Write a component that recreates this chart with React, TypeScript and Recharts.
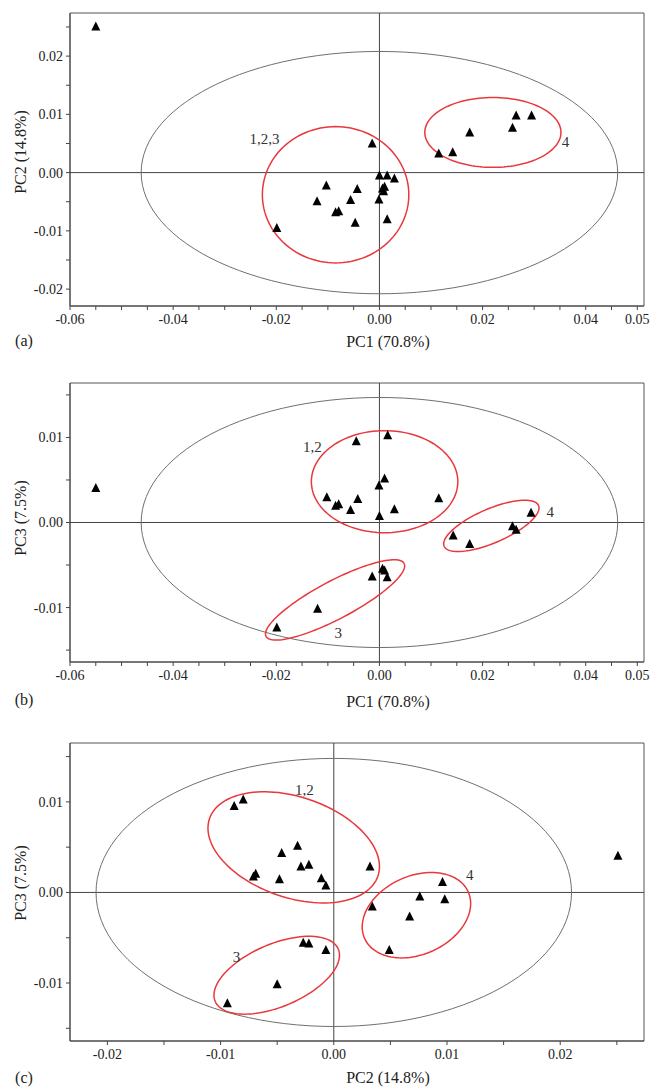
import { ScatterChart, Scatter, XAxis, YAxis, ReferenceLine, ReferenceArea, ReferenceDot } from 'recharts';

const FONT = '"Liberation Serif", "Times New Roman", serif';

// tick positions and which of them carry a label
const pc1Ticks = [-0.06, -0.055, -0.05, -0.045, -0.04, -0.035, -0.03, -0.025, -0.02, -0.015, -0.01, -0.005, 0, 0.005, 0.01, 0.015, 0.02, 0.025, 0.03, 0.035, 0.04, 0.045, 0.05];
const pc1Labels = [-0.06, -0.04, -0.02, 0, 0.02, 0.04, 0.05];
const pc2Ticks = [-0.02, -0.015, -0.01, -0.005, 0, 0.005, 0.01, 0.015, 0.02, 0.025];
const pc2Labels = [-0.02, -0.01, 0, 0.01, 0.02];
const pc3Ticks = [-0.015, -0.01, -0.005, 0, 0.005, 0.01, 0.015];
const pc3Labels = [-0.01, 0, 0.01];

// scores: [x, y]
const scoresA: [number, number][] = [
  [-0.055, 0.025],
  [-0.0014, 0.0049], [-0.0199, -0.0096], [-0.0121, -0.005], [-0.0103, -0.0023],
  [-0.0085, -0.0069], [-0.0079, -0.0067], [-0.0056, -0.0048], [-0.0043, -0.0029],
  [-0.0047, -0.0087], [0.0, -0.0006], [0.0015, -0.0006], [0.0029, -0.0011],
  [0.001, -0.0025], [0.0008, -0.0033], [0.0006, -0.0028], [-0.0001, -0.0047], [0.0015, -0.0081],
  [0.0115, 0.0032], [0.0142, 0.0034], [0.0175, 0.0068], [0.0258, 0.0076], [0.0265, 0.0097], [0.0295, 0.0097],
];
const scoresB: [number, number][] = [
  [-0.055, 0.004],
  [-0.0045, 0.0095], [0.0016, 0.0102], [0.001, 0.0051], [-0.0001, 0.0043],
  [-0.0102, 0.0029], [-0.0085, 0.0019], [-0.0079, 0.0021], [-0.0042, 0.0027],
  [-0.0056, 0.0014], [0.0029, 0.0015], [0.0, 0.0007], [0.0115, 0.0028],
  [0.0143, -0.0016], [0.0175, -0.0026], [0.0258, -0.0005], [0.0265, -0.0009], [0.0294, 0.0011],
  [-0.0014, -0.0064], [0.0006, -0.0055], [0.001, -0.0057], [0.0015, -0.0065], [-0.012, -0.0102], [-0.0199, -0.0124],
];
const scoresC: [number, number][] = [
  [-0.0088, 0.0095], [-0.008, 0.0102], [-0.0046, 0.0043], [-0.0032, 0.0051],
  [-0.0069, 0.002], [-0.0071, 0.0017], [-0.0048, 0.0014], [-0.0029, 0.0028],
  [-0.0022, 0.003], [-0.0011, 0.0015], [-0.0007, 0.0007], [0.0032, 0.0028],
  [-0.0027, -0.0056], [-0.0022, -0.0057], [-0.0007, -0.0064], [-0.005, -0.0102], [-0.0094, -0.0123],
  [0.0034, -0.0016], [0.0076, -0.0005], [0.0067, -0.0027], [0.0096, 0.0011], [0.0098, -0.0008], [0.0049, -0.0064],
  [0.0251, 0.004],
];

// ellipses: [cx, cy, ux, uy, vx, vy] (centre + two conjugate half-axes, data units)
const hotellingA = [0, 0, 0.0462, 0, 0, 0.0208];
const groupsA = [
  [-0.0085, -0.0038, 0.0142, 0, 0, 0.0117],
  [0.022, 0.0069, 0.0132, 0, 0, 0.006],
];
const hotellingB = [0, 0, 0.0462, 0, 0, 0.0147];
const groupsB = [
  [0.001, 0.0048, 0.0142, 0, 0, 0.006],
  [0.0217, -0.0004, 0.00915, 0.0024, 0.00132, -0.00183],
  [-0.0086, -0.0091, 0.01338, 0.00429, 0.00173, -0.00197],
];
const hotellingC = [0, 0, 0.021, 0, 0, 0.0148];
const groupsC = [
  [-0.00354, 0.00498, 0.00744, -0.00316, -0.00142, -0.00526],
  [-0.00504, -0.00914, 0.00544, 0.00288, 0.00107, -0.00319],
  [0.0073, -0.00251, 0.00458, 0.00256, 0.0014, -0.00396],
];

// group captions: [x, y, text]
const captionsA: [number, number, string][] = [[-0.0223, 0.0059, '1,2,3'], [0.0361, 0.0053, '4']];
const captionsB: [number, number, string][] = [[-0.013, 0.0089, '1,2'], [0.0331, 0.0013, '4'], [-0.008, -0.013, '3']];
const captionsC: [number, number, string][] = [[-0.0026, 0.0114, '1,2'], [-0.0086, -0.0071, '3'], [0.012, 0.002, '4']];

const ellipsePoints = (e: number[]) => {
  const [cx, cy, ux, uy, vx, vy] = e;
  const pts = [];
  for (let i = 0; i <= 120; i++) {
    const t = (i / 120) * Math.PI * 2;
    pts.push({ x: cx + ux * Math.cos(t) + vx * Math.sin(t), y: cy + uy * Math.cos(t) + vy * Math.sin(t) });
  }
  return pts;
};

const Triangle = (props: any) => {
  const { cx, cy } = props;
  if (cx == null || cy == null) return <g />;
  return <polygon points={`${cx},${cy - 5.5} ${cx - 4.5},${cy + 3.5} ${cx + 4.5},${cy + 3.5}`} fill="#000" />;
};

const fmt = (labels: number[]) => (v: number) =>
  labels.some((l) => Math.abs(l - v) < 1e-9) ? v.toFixed(2) : '';

interface PanelProps {
  top: number;
  height: number;
  marginTop: number;
  marginBottom: number;
  scores: [number, number][];
  hotelling: number[];
  groups: number[][];
  captions: [number, number, string][];
  xDomain: [number, number];
  yDomain: [number, number];
  xTicks: number[];
  xLabels: number[];
  yTicks: number[];
  yLabels: number[];
}

const Panel = (p: PanelProps) => {
  const data = p.scores.map(([x, y]) => ({ x, y }));
  return (
    <div style={{ position: 'absolute', left: 0, top: p.top }}>
      <ScatterChart width={656} height={p.height} margin={{ top: p.marginTop, right: 12, left: 10, bottom: p.marginBottom }}>
        <XAxis
          type="number"
          dataKey="x"
          domain={p.xDomain}
          ticks={p.xTicks}
          interval={0}
          allowDataOverflow
          tickFormatter={fmt(p.xLabels)}
          tickSize={4}
          tickMargin={4}
          height={30}
          stroke="#444"
          tick={{ fontSize: 14, fill: '#222', fontFamily: FONT }}
        />
        <YAxis
          type="number"
          dataKey="y"
          domain={p.yDomain}
          ticks={p.yTicks}
          interval={0}
          allowDataOverflow
          tickFormatter={fmt(p.yLabels)}
          tickSize={4}
          tickMargin={3}
          width={60}
          stroke="#444"
          tick={{ fontSize: 14, fill: '#222', fontFamily: FONT }}
        />
        <ReferenceArea x1={p.xDomain[0]} x2={p.xDomain[1]} y1={p.yDomain[0]} y2={p.yDomain[1]} fill="none" stroke="#555" strokeWidth={1} />
        <ReferenceLine x={0} stroke="#444" strokeWidth={1} />
        <ReferenceLine y={0} stroke="#444" strokeWidth={1} />
        <Scatter
          data={ellipsePoints(p.hotelling)}
          line={{ stroke: '#707070', strokeWidth: 1 }}
          lineType="joint"
          shape={() => <g />}
          isAnimationActive={false}
        />
        {p.groups.map((g, i) => (
          <Scatter
            key={i}
            data={ellipsePoints(g)}
            line={{ stroke: '#e8383d', strokeWidth: 1.5 }}
            lineType="joint"
            shape={() => <g />}
            isAnimationActive={false}
          />
        ))}
        <Scatter data={data} shape={Triangle} isAnimationActive={false} />
        {p.captions.map(([x, y, t], i) => (
          <ReferenceDot
            key={i}
            x={x}
            y={y}
            r={1}
            fill="none"
            stroke="none"
            label={{ value: t, position: 'center', fontSize: 15, fill: '#333', fontFamily: FONT }}
          />
        ))}
      </ScatterChart>
    </div>
  );
};

const Caption = ({ x, y, text }: { x: number; y: number; text: string }) => (
  <div style={{ position: 'absolute', left: x, top: y, transform: 'translate(-50%, -50%)', whiteSpace: 'nowrap', fontFamily: FONT, fontSize: 16, color: '#222' }}>
    {text}
  </div>
);

const VCaption = ({ x, y, text }: { x: number; y: number; text: string }) => (
  <div style={{ position: 'absolute', left: x, top: y, transform: 'translate(-50%, -50%) rotate(-90deg)', whiteSpace: 'nowrap', fontFamily: FONT, fontSize: 16, color: '#222' }}>
    {text}
  </div>
);

export default function App() {
  return (
    <div style={{ position: 'absolute', left: 0, top: 0, width: 656, height: 1087, background: '#fff', overflow: 'hidden' }}>
      <Panel
        top={0} height={340} marginTop={13} marginBottom={4}
        scores={scoresA} hotelling={hotellingA} groups={groupsA} captions={captionsA}
        xDomain={[-0.06, 0.0513]} yDomain={[-0.0229, 0.0274]}
        xTicks={pc1Ticks} xLabels={pc1Labels} yTicks={pc2Ticks} yLabels={pc2Labels}
      />
      <Panel
        top={370} height={330} marginTop={13} marginBottom={8}
        scores={scoresB} hotelling={hotellingB} groups={groupsB} captions={captionsB}
        xDomain={[-0.06, 0.0513]} yDomain={[-0.0164, 0.0164]}
        xTicks={pc1Ticks} xLabels={pc1Labels} yTicks={pc3Ticks} yLabels={pc3Labels}
      />
      <Panel
        top={730} height={345} marginTop={13} marginBottom={4}
        scores={scoresC} hotelling={hotellingC} groups={groupsC} captions={captionsC}
        xDomain={[-0.0233, 0.0274]} yDomain={[-0.0164, 0.0165]}
        xTicks={pc2Ticks} xLabels={pc2Labels} yTicks={pc3Ticks} yLabels={pc3Labels}
      />
      <Caption x={388} y={342} text="PC1 (70.8%)" />
      <Caption x={24} y={341} text="(a)" />
      <VCaption x={21} y={152} text="PC2 (14.8%)" />
      <Caption x={388} y={702} text="PC1 (70.8%)" />
      <Caption x={24} y={700} text="(b)" />
      <VCaption x={21} y={518} text="PC3 (7.5%)" />
      <Caption x={388} y={1078} text="PC2 (14.8%)" />
      <Caption x={24} y={1078} text="(c)" />
      <VCaption x={21} y={883} text="PC3 (7.5%)" />
    </div>
  );
}
